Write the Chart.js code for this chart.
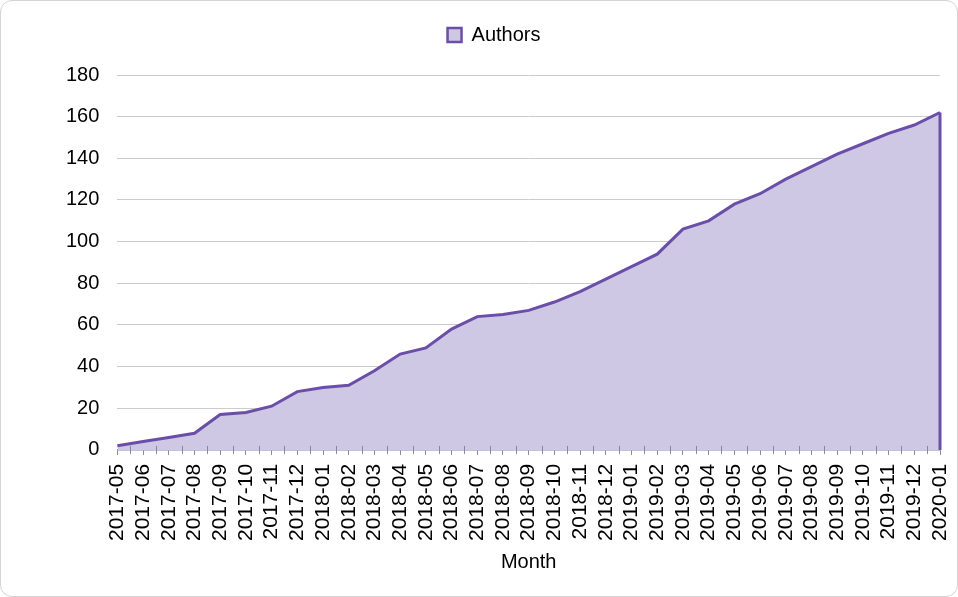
<!DOCTYPE html>
<html>
<head>
<meta charset="utf-8">
<script src="https://cdn.jsdelivr.net/npm/chart.js@4"></script>
<style>
  html, body { margin: 0; padding: 0; background: #fff; }
  #wrap {
    position: absolute; left: 0; top: 0;
    width: 956px; height: 595px;
    border: 1px solid #d4d4d4; border-radius: 12px;
    box-sizing: content-box;
  }
  canvas { display: block; }
</style>
</head>
<body>
<div id="wrap"><canvas id="chart" width="956" height="595"></canvas></div>
<script>
const months = [
  "2017-05", "2017-06", "2017-07", "2017-08", "2017-09", "2017-10", "2017-11", "2017-12",
  "2018-01", "2018-02", "2018-03", "2018-04", "2018-05", "2018-06", "2018-07", "2018-08",
  "2018-09", "2018-10", "2018-11", "2018-12", "2019-01", "2019-02", "2019-03", "2019-04",
  "2019-05", "2019-06", "2019-07", "2019-08", "2019-09", "2019-10", "2019-11", "2019-12",
  "2020-01"
];
const authors = [
  2, 4, 6, 8, 17, 18, 21, 28,
  30, 31, 38, 46, 49, 58, 64, 65,
  67, 71, 76, 82, 88, 94, 106, 110,
  118, 123, 130, 136, 142, 147, 152, 156,
  162
];
const yMax = 180;
const yStep = 20;

const lineColor = "#6a4ea8";
const fillColor = "#cfc8e4";
const font = "'Liberation Sans', Arial, sans-serif";

// closes the area on the right edge and adds minor ticks between months
const extras = {
  id: "extras",
  afterDatasetsDraw(chart) {
    const ctx = chart.ctx;
    const x = chart.scales.x, y = chart.scales.y;
    const last = months.length - 1;
    ctx.save();
    ctx.strokeStyle = lineColor;
    ctx.lineWidth = 3;
    ctx.beginPath();
    ctx.moveTo(x.getPixelForValue(last), y.getPixelForValue(authors[last]));
    ctx.lineTo(x.getPixelForValue(last), y.getPixelForValue(0));
    ctx.stroke();
    ctx.strokeStyle = "#8a83a3";
    ctx.lineWidth = 1;
    const y0 = y.getPixelForValue(0);
    for (let i = 0; i < last; i++) {
      const px = Math.round(x.getPixelForValue(i + 0.5)) + 0.5;
      ctx.beginPath();
      ctx.moveTo(px, y0 - 4);
      ctx.lineTo(px, y0 + 4);
      ctx.stroke();
    }
    ctx.restore();
  }
};

const chart = new Chart(document.getElementById("chart").getContext("2d"), {
  type: "line",
  data: {
    labels: months,
    datasets: [{
      label: "Authors",
      data: authors,
      borderColor: lineColor,
      backgroundColor: fillColor,
      borderWidth: 3,
      fill: "origin",
      pointRadius: 0,
      tension: 0
    }]
  },
  options: {
    responsive: false,
    animation: false,
    layout: { padding: { left: 47, right: 17, top: 2, bottom: 18 } },
    plugins: {
      tooltip: { enabled: false },
      legend: {
        position: "top",
        labels: {
          color: "#000",
          font: { family: font, size: 20 },
          boxWidth: 14,
          boxHeight: 14,
          padding: 22,
          generateLabels(chart) {
            return [{
              text: "Authors",
              fillStyle: fillColor,
              strokeStyle: lineColor,
              lineWidth: 2.5,
              datasetIndex: 0
            }];
          }
        }
      }
    },
    scales: {
      x: {
        offset: false,
        // the last rotated label may hang past the plot edge
        afterFit(scale) { scale.paddingRight = 0; },
        title: {
          display: true,
          text: "Month",
          color: "#000",
          font: { family: font, size: 20 },
          padding: { top: 0 }
        },
        ticks: {
          color: "#000",
          font: { family: font, size: 21 },
          minRotation: 90,
          maxRotation: 90,
          autoSkip: false,
          padding: 9
        },
        grid: {
          drawOnChartArea: false,
          color: "#8a83a3",
          tickLength: 5
        },
        border: { color: "#8a83a3", width: 1.5 }
      },
      y: {
        min: 0,
        max: yMax,
        ticks: {
          stepSize: yStep,
          color: "#000",
          font: { family: font, size: 20 },
          padding: 18
        },
        grid: {
          color: "#cccccc",
          drawTicks: false
        },
        border: { display: false }
      }
    }
  },
  plugins: [extras]
});

// leave extra room between the legend and the plot, as in the original
const legendFit = chart.legend.fit;
chart.legend.fit = function () {
  legendFit.call(this);
  this.height += 20;
};
chart.update();
</script>
</body>
</html>
